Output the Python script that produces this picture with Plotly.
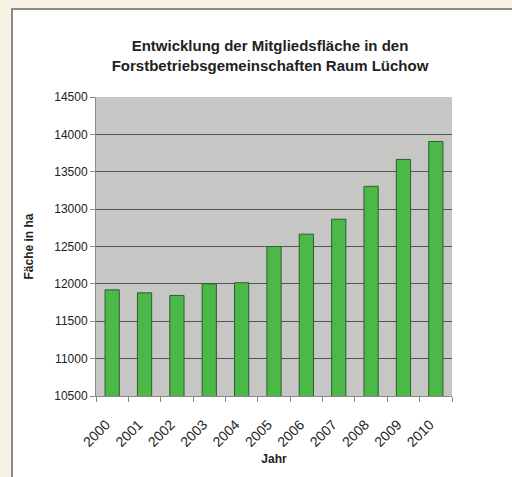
import plotly.graph_objects as go

years = ["2000", "2001", "2002", "2003", "2004", "2005", "2006", "2007", "2008", "2009", "2010"]
area_ha = [11920, 11880, 11845, 12000, 12015, 12500, 12665, 12865, 13305, 13665, 13905]
y_ticks = [10500, 11000, 11500, 12000, 12500, 13000, 13500, 14000, 14500]

W, H = 512, 477
L, R, T, B = 96, 60, 97, 81
pw, ph = W - L - R, H - T - B

def px_x(p):
    return (p - L) / pw

def px_y(p):
    return (H - B - p) / ph

fig = go.Figure()
fig.add_trace(go.Bar(
    x=years, y=area_ha,
    marker=dict(color="#4cb848", line=dict(color="#2e5e2e", width=1)),
    width=0.44,
))

fig.update_layout(
    width=W, height=H,
    margin=dict(l=L, r=R, t=T, b=B, autoexpand=False),
    paper_bgcolor="#f6f3e4",
    plot_bgcolor="#c6c6c4",
    showlegend=False,
    font=dict(family="Liberation Sans, Arial, sans-serif", color="#222222", size=12),
    title=dict(
        text="<b>Entwicklung der Mitgliedsfläche in den<br>Forstbetriebsgemeinschaften Raum Lüchow</b>",
        x=(270) / W, xanchor="center",
        y=1 - 51 / H, yanchor="middle",
        font=dict(size=15, color="#222222"),
    ),
    shapes=[
        dict(type="rect", xref="paper", yref="paper", layer="below",
             x0=px_x(12), x1=px_x(520), y0=px_y(485), y1=px_y(9),
             fillcolor="#ffffff", line=dict(color="#8a8a8a", width=2)),
        dict(type="rect", xref="paper", yref="paper", layer="below",
             x0=0, x1=1, y0=0, y1=1,
             fillcolor="#c6c6c4", line=dict(width=0)),
    ],
)

fig.update_yaxes(
    range=[10500, 14500],
    tickvals=y_ticks,
    ticktext=[str(v) for v in y_ticks],
    showgrid=True, gridcolor="#555555", gridwidth=1,
    showline=True, linecolor="#8a8a8a", linewidth=1,
    ticks="outside", ticklen=5, tickcolor="#8a8a8a",
    zeroline=False,
    title=dict(text="<b>Fäche in ha</b>", font=dict(size=12), standoff=18),
)
fig.update_xaxes(
    type="category",
    tickangle=-45,
    tickfont=dict(size=14),
    ticklabelstandoff=14,
    ticklabelshift=-6,
    showline=True, linecolor="#8a8a8a", linewidth=1,
    ticks="outside", ticklen=5, tickcolor="#8a8a8a", tickson="boundaries",
    showgrid=False,
    title=dict(text="<b>Jahr</b>", font=dict(size=12), standoff=5),
)

fig.write_html(
    "out.html",
    config={"displayModeBar": False},
    post_script="document.body.style.margin='0';document.body.style.background='#f6f3e4';",
)
